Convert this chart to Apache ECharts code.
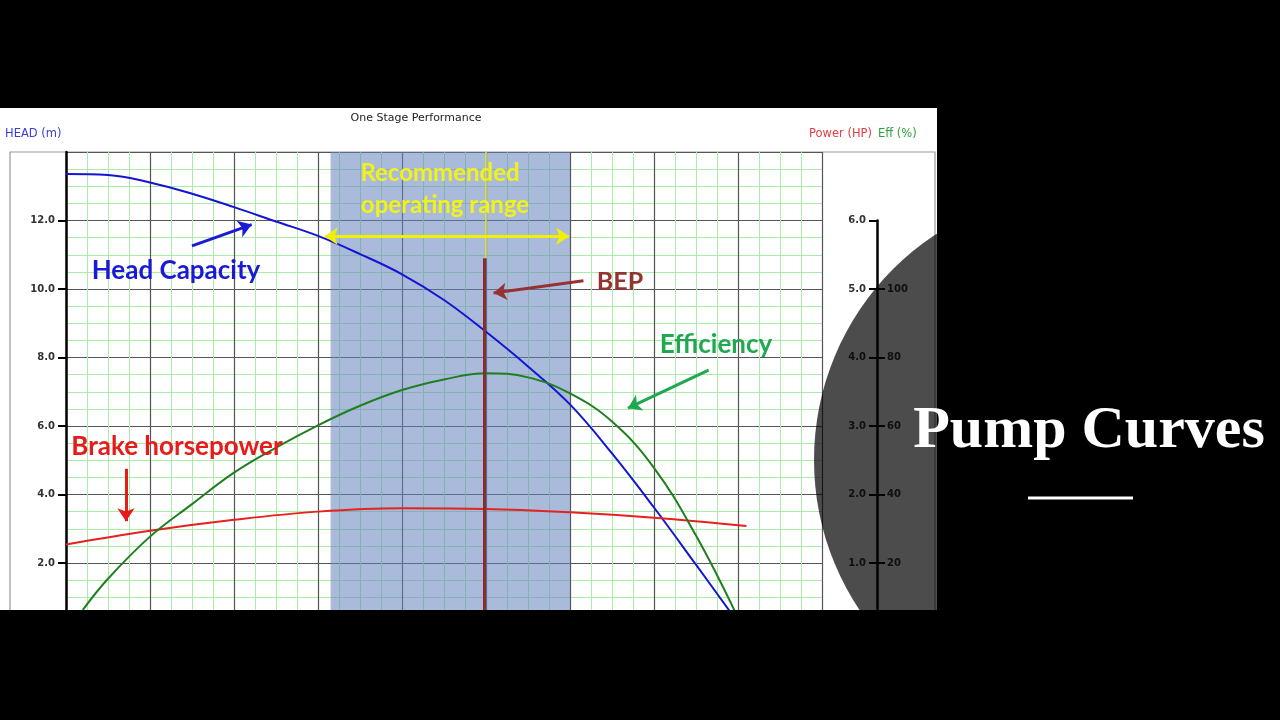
<!DOCTYPE html>
<html>
<head>
<meta charset="utf-8">
<title>Pump Curves</title>
<script src="https://cdn.jsdelivr.net/npm/echarts@6/dist/echarts.min.js"></script>
<style>
  html, body { margin: 0; padding: 0; background: #000; }
  #main { width: 1280px; height: 720px; }
</style>
</head>
<body>
<div id="main"></div>
<script>
// flow positions (one unit = one major grid column)
var flow = [0, 0.5, 1, 1.5, 2, 2.5, 3, 3.5, 4, 4.5, 5, 5.5, 6, 6.5, 7, 7.5, 8];
var headM = [13.36, 13.33, 13.11, 12.78, 12.39, 11.97, 11.55, 11.02, 10.43, 9.68, 8.75, 7.74, 6.63, 5.2, 3.62, 1.95, 0.26];

var powerFlow = [0, 1, 2, 3, 4, 5, 6, 7, 8.1];
var powerHP = [1.27, 1.47, 1.63, 1.75, 1.8, 1.79, 1.74, 1.66, 1.54];

var effFlow = [0.2, 0.5, 1, 1.5, 2, 2.5, 3, 3.5, 4, 4.5, 5, 5.5, 6, 6.5, 7, 7.5, 8];
var effPct = [6.3, 15.4, 27.7, 37.2, 46.4, 53.7, 60.2, 65.9, 70.5, 73.6, 75.4, 74.2, 69.5, 61.3, 47.8, 28, 4];

var headTicks = [0, 14, 2];    // min, max, step
var powerTicks = [0, 6, 1];
var effTicks = [0, 120, 20];
var effShown = [20, 40, 60, 80, 100];

var bepFlow = 4.98;
var bepTopHead = 10.9;
var rangeFlow = [3.15, 6];
var rangeArrow = [3.08, 5.99, 11.54];

// annotation arrows: [fromFlow, fromHead, toFlow, toHead, colour]
var arrows = [
  [1.5, 11.26, 2.21, 11.88, '#1a1ad6'],
  [0.714, 4.75, 0.714, 3.22, '#e81a1a'],
  [6.16, 10.24, 5.09, 9.88, '#973232'],
  [7.65, 7.63, 6.69, 6.52, '#20a850']
];

function pairs(xs, ys) {
  return xs.map(function (x, i) { return [x, ys[i]]; });
}

var myChart = echarts.init(document.getElementById('main'));

var tickFont = { color: '#333', fontSize: 10, fontWeight: 'bold', fontFamily: 'DejaVu Sans' };
var noteFont = 'Lato';

var majorLine = { show: true, lineStyle: { color: '#555', width: 1.2 } };
var minorLine = { show: true, lineStyle: { color: '#a8eca8', width: 1 } };

var arrowLines = arrows.map(function (a) {
  return [
    { coord: [a[0], a[1]], symbol: 'none', lineStyle: { color: a[4], width: 3, type: 'solid' } },
    { coord: [a[2], a[3]], symbol: 'arrow', symbolSize: 13 }
  ];
});

function note(text, x, y, color, size) {
  return {
    type: 'text', z: 50, silent: true, x: x, y: y,
    style: { text: text, fill: color, font: 'bold ' + size + 'px ' + noteFont, align: 'center', verticalAlign: 'middle' }
  };
}

myChart.setOption({
  backgroundColor: '#000',
  animation: false,
  grid: [
    { left: 66, right: 458, top: 152, bottom: 88.5, containLabel: false },
    { left: 66, right: 458, top: 220.5, bottom: 88.5, containLabel: false }
  ],
  xAxis: [
    {
      type: 'value', gridIndex: 0, min: 0, max: 9, interval: 1,
      axisLine: { show: false }, axisTick: { show: false }, axisLabel: { show: false },
      splitLine: majorLine,
      minorTick: { show: false, splitNumber: 4 },
      minorSplitLine: minorLine
    },
    {
      type: 'value', gridIndex: 1, min: 0, max: 9, interval: 1, show: false
    }
  ],
  yAxis: [
    {
      type: 'value', gridIndex: 0, position: 'left',
      min: headTicks[0], max: headTicks[1], interval: headTicks[2],
      axisLine: { show: true, onZero: false, lineStyle: { color: '#000', width: 2.5 } },
      axisTick: { show: true, length: 8, lineStyle: { color: '#000', width: 2 } },
      axisLabel: Object.assign({ margin: 11, showMaxLabel: false, formatter: function (v) { return v.toFixed(1); } }, tickFont),
      splitLine: majorLine,
      minorTick: { show: false, splitNumber: 4 },
      minorSplitLine: minorLine
    },
    {
      type: 'value', gridIndex: 1, position: 'right', offset: 55,
      min: powerTicks[0], max: powerTicks[1], interval: powerTicks[2],
      axisLine: { show: true, onZero: false, lineStyle: { color: '#000', width: 2.5 } },
      axisTick: { show: true, inside: true, length: 8, lineStyle: { color: '#000', width: 2 } },
      axisLabel: Object.assign({ inside: true, margin: 11, formatter: function (v) { return v === 0 ? '' : v.toFixed(1); } }, tickFont),
      splitLine: { show: false }
    },
    {
      type: 'value', gridIndex: 1, position: 'right', offset: 55,
      min: effTicks[0], max: effTicks[1], interval: effTicks[2],
      axisLine: { show: false, onZero: false },
      axisTick: { show: true, length: 8, customValues: effShown, lineStyle: { color: '#000', width: 2 } },
      axisLabel: Object.assign({ margin: 10, customValues: effShown }, tickFont),
      splitLine: { show: false }
    }
  ],
  series: [
    {
      name: 'Range', type: 'line', xAxisIndex: 0, yAxisIndex: 0, z: 1,
      data: [], silent: true,
      markArea: {
        silent: true,
        itemStyle: { color: 'rgba(100,130,190,0.55)' },
        data: [[{ xAxis: rangeFlow[0] }, { xAxis: rangeFlow[1] }]]
      },
      markLine: {
        silent: true, symbol: ['none', 'none'], label: { show: false },
        data: [
          [{ coord: [bepFlow + 0.02, headTicks[1]], lineStyle: { color: '#e8e820', width: 1.5, type: 'solid' } },
           { coord: [bepFlow + 0.02, bepTopHead] }],
          [{ coord: [bepFlow, bepTopHead], lineStyle: { color: '#8b2c2c', width: 3, type: 'solid' } },
           { coord: [bepFlow, headTicks[0]] }]
        ]
      }
    },
    {
      name: 'Head Capacity', type: 'line', xAxisIndex: 0, yAxisIndex: 0, z: 3,
      data: pairs(flow, headM), smooth: 0.4, showSymbol: false,
      lineStyle: { color: '#1414d4', width: 2 },
      markLine: {
        silent: true, symbol: ['none', 'none'], label: { show: false },
        data: [
          [{ coord: [rangeArrow[0], rangeArrow[2]], symbol: 'arrow', symbolSize: 13,
             lineStyle: { color: '#f0f000', width: 3, type: 'solid' } },
           { coord: [rangeArrow[1], rangeArrow[2]], symbol: 'arrow', symbolSize: 13 }]
        ].concat(arrowLines)
      }
    },
    {
      name: 'Brake horsepower', type: 'line', xAxisIndex: 1, yAxisIndex: 1, z: 3,
      data: pairs(powerFlow, powerHP), smooth: 0.4, showSymbol: false,
      lineStyle: { color: '#e82020', width: 2 }
    },
    {
      name: 'Efficiency', type: 'line', xAxisIndex: 1, yAxisIndex: 2, z: 3,
      data: pairs(effFlow, effPct), smooth: 0.4, showSymbol: false,
      lineStyle: { color: '#1f7f1f', width: 2 }
    }
  ],
  graphic: [
    { type: 'rect', z: -10, silent: true, shape: { x: 0, y: 108, width: 937, height: 502 }, style: { fill: '#fff' } },
    { type: 'rect', z: -5, silent: true, shape: { x: 10, y: 152, width: 925, height: 520 }, style: { fill: 'none', stroke: '#999', lineWidth: 1.2 } },
    { type: 'text', z: 20, silent: true, x: 416, y: 118,
      style: { text: 'One Stage Performance', fill: '#222', font: '11px "DejaVu Sans"', align: 'center', verticalAlign: 'middle' } },
    { type: 'text', z: 20, silent: true, x: 5, y: 134,
      style: { text: 'HEAD (m)', fill: '#3c3cd8', font: '11.5px "DejaVu Sans"', align: 'left', verticalAlign: 'middle' } },
    { type: 'text', z: 20, silent: true, x: 872, y: 134,
      style: { text: 'Power (HP)', fill: '#e04040', font: '11.5px "DejaVu Sans"', align: 'right', verticalAlign: 'middle' } },
    { type: 'text', z: 20, silent: true, x: 878, y: 134,
      style: { text: 'Eff (%)', fill: '#30a040', font: '11.5px "DejaVu Sans"', align: 'left', verticalAlign: 'middle' } },
    note('Recommended', 440, 173, '#f2f21a', 24),
    note('operating range', 445, 205, '#f2f21a', 24),
    note('Head Capacity', 176, 271, '#1a1ad6', 26),
    note('Brake horsepower', 177, 447, '#e81a1a', 26),
    note('BEP', 620, 282, '#973232', 25),
    note('Efficiency', 716, 345, '#20a850', 26),
    // slide cut-off below the chart
    { type: 'rect', z: 90, silent: true, shape: { x: 0, y: 610, width: 1280, height: 110 }, style: { fill: '#000' } },
    // dark disc over the right edge
    { type: 'circle', z: 100, silent: true, shape: { cx: 1084, cy: 460, r: 270 }, style: { fill: 'rgba(0,0,0,0.7)' } },
    { type: 'text', z: 110, silent: true, x: 1089, y: 461,
      style: { text: 'Pump Curves', fill: '#fff', font: 'bold 60px "Liberation Serif"', align: 'center', verticalAlign: 'bottom' } },
    { type: 'rect', z: 110, silent: true, shape: { x: 1028, y: 496.5, width: 105, height: 3 }, style: { fill: '#fff' } }
  ]
});
</script>
</body>
</html>
